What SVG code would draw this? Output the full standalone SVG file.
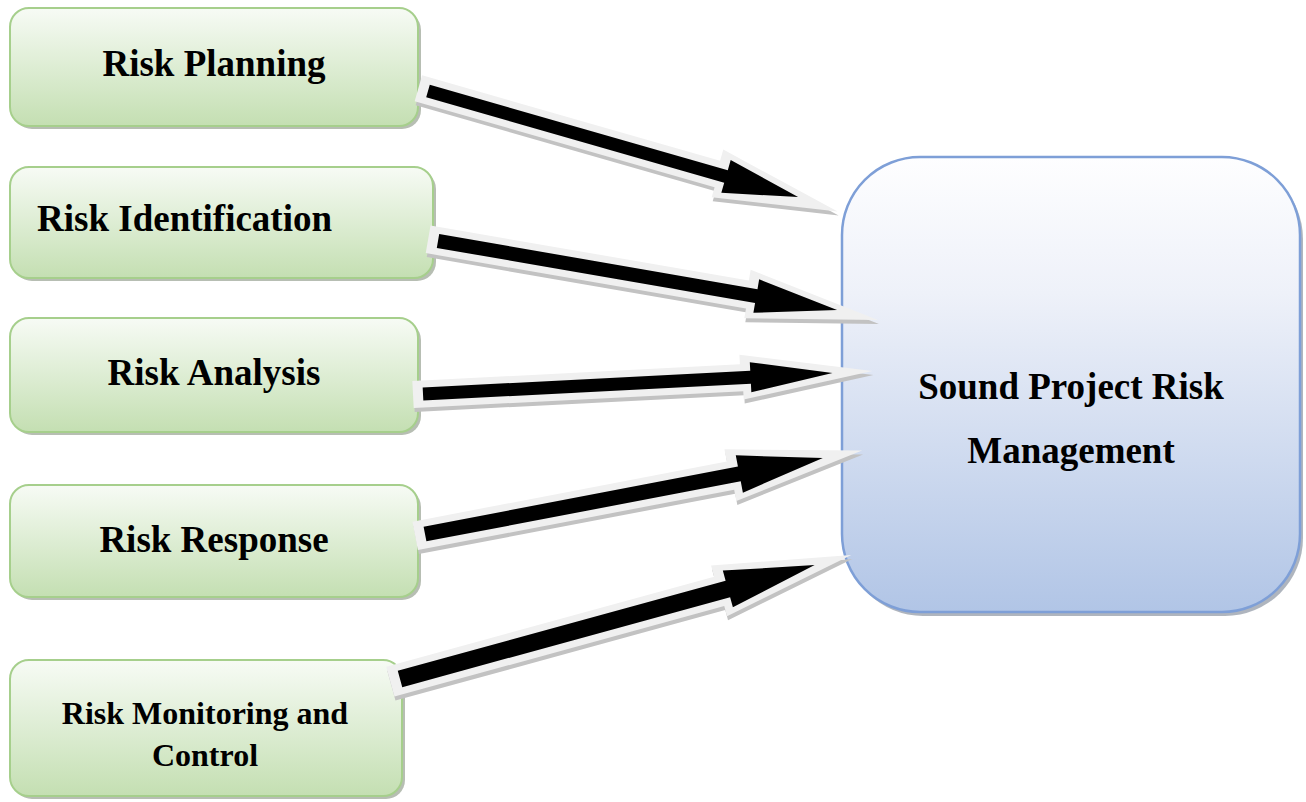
<svg xmlns="http://www.w3.org/2000/svg" width="1306" height="802" viewBox="0 0 1306 802">
  <style>
    .step { fill: url(#greenFill); stroke: #a6cf8c; stroke-width: 2; }
    .step-shadow { fill: #9fa89a; opacity: 0.75; }
    .goal { fill: url(#blueFill); stroke: #7e9fd7; stroke-width: 2.5; }
    .goal-shadow { fill: #8d95a3; opacity: 0.7; }
    .label { font-family: "Liberation Serif", "Times New Roman", serif; font-weight: bold; fill: #000; }
    .arrow-shadow { fill: #c2c2c2; }
    .arrow-rim { fill: #f0f0f0; }
    .arrow-body { fill: #000; }
  </style>
  <defs>
    <linearGradient id="greenFill" x1="0" y1="0" x2="0" y2="1">
      <stop offset="0" stop-color="#f7fbf5"/>
      <stop offset="1" stop-color="#c4dfb2"/>
    </linearGradient>
    <linearGradient id="blueFill" x1="0" y1="0" x2="0" y2="1">
      <stop offset="0" stop-color="#fefeff"/>
      <stop offset="0.3" stop-color="#eef1f9"/>
      <stop offset="1" stop-color="#b1c5e6"/>
    </linearGradient>
  </defs>
  <rect width="1306" height="802" fill="#ffffff"/>

  <!-- process steps -->
  <g id="risk-planning">
    <rect class="step-shadow" x="13" y="11" width="408" height="118" rx="19"/>
    <rect class="step" x="10" y="8" width="408" height="118" rx="19"/>
    <text class="label" x="214" y="76" font-size="37" text-anchor="middle">Risk Planning</text>
  </g>
  <g id="risk-identification">
    <rect class="step-shadow" x="13" y="170" width="423" height="111" rx="19"/>
    <rect class="step" x="10" y="167" width="423" height="111" rx="19"/>
    <text class="label" x="37" y="231" font-size="37">Risk Identification</text>
  </g>
  <g id="risk-analysis">
    <rect class="step-shadow" x="13" y="321" width="408" height="114" rx="19"/>
    <rect class="step" x="10" y="318" width="408" height="114" rx="19"/>
    <text class="label" x="214" y="385" font-size="37" text-anchor="middle">Risk Analysis</text>
  </g>
  <g id="risk-response">
    <rect class="step-shadow" x="13" y="488" width="408" height="112" rx="19"/>
    <rect class="step" x="10" y="485" width="408" height="112" rx="19"/>
    <text class="label" x="214" y="552" font-size="37" text-anchor="middle">Risk Response</text>
  </g>
  <g id="risk-monitoring">
    <rect class="step-shadow" x="13" y="663" width="392" height="136" rx="19"/>
    <rect class="step" x="10" y="660" width="392" height="136" rx="19"/>
    <text class="label" x="205" y="724" font-size="32" text-anchor="middle">Risk Monitoring and</text>
    <text class="label" x="205" y="766" font-size="32" text-anchor="middle">Control</text>
  </g>

  <!-- outcome -->
  <g id="sound-risk-management">
    <rect class="goal-shadow" x="845" y="161" width="458" height="455" rx="78"/>
    <rect class="goal" x="842" y="157" width="458" height="455" rx="78"/>
    <text class="label" x="1071" y="399" font-size="37" text-anchor="middle">Sound Project Risk</text>
    <text class="label" x="1071" y="463" font-size="37" text-anchor="middle">Management</text>
  </g>

  <!-- block arrows: shadow, light rim, black body -->
  <g id="connectors">
    <g id="arrow-planning">
      <polygon class="arrow-shadow" transform="translate(429 95) rotate(15.99)" points="-10,-13.5 300,-13.5 300,-25 427,3 302,24 302,13.5 -10,13.5"/>
      <polygon class="arrow-rim" transform="translate(428 91) rotate(15.99)" points="-10,-13.5 300,-13.5 300,-25 427,3 302,24 302,13.5 -10,13.5"/>
      <polygon class="arrow-body" transform="translate(428 91) rotate(15.99)" points="0,-6.5 310,-6.5 310,-17 385,0 310,17 310,6.5 0,6.5"/>
    </g>
    <g id="arrow-identification">
      <polygon class="arrow-shadow" transform="translate(439 245) rotate(9.81)" points="-10,-14 313,-14 313,-25 447,3 315,24 315,14 -10,14"/>
      <polygon class="arrow-rim" transform="translate(438 241) rotate(9.81)" points="-10,-14 313,-14 313,-25 447,3 315,24 315,14 -10,14"/>
      <polygon class="arrow-body" transform="translate(438 241) rotate(9.81)" points="0,-7 323,-7 323,-17 405,0 323,17 323,7 0,7"/>
    </g>
    <g id="arrow-analysis">
      <polygon class="arrow-shadow" transform="translate(424 398) rotate(-2.93)" points="-10,-13.5 318,-13.5 318,-23 450,0 320,22 320,13.5 -10,13.5"/>
      <polygon class="arrow-rim" transform="translate(423 394) rotate(-2.93)" points="-10,-13.5 318,-13.5 318,-23 450,0 320,22 320,13.5 -10,13.5"/>
      <polygon class="arrow-body" transform="translate(423 394) rotate(-2.93)" points="0,-6.5 328,-6.5 328,-15 410,0 328,15 328,6.5 0,6.5"/>
    </g>
    <g id="arrow-response">
      <polygon class="arrow-shadow" transform="translate(426 538) rotate(-10.81)" points="-10,-14.5 310,-14.5 310,-27 445,0 312,26 312,14.5 -10,14.5"/>
      <polygon class="arrow-rim" transform="translate(425 534) rotate(-10.81)" points="-10,-14.5 310,-14.5 310,-27 445,0 312,26 312,14.5 -10,14.5"/>
      <polygon class="arrow-body" transform="translate(425 534) rotate(-10.81)" points="0,-7.5 320,-7.5 320,-19 405,0 320,19 320,7.5 0,7.5"/>
    </g>
    <g id="arrow-monitoring">
      <polygon class="arrow-shadow" transform="translate(401 683) rotate(-15.36)" points="-10,-15.5 330,-15.5 330,-27 468,0 332,26 332,15.5 -10,15.5"/>
      <polygon class="arrow-rim" transform="translate(400 679) rotate(-15.36)" points="-10,-15.5 330,-15.5 330,-27 468,0 332,26 332,15.5 -10,15.5"/>
      <polygon class="arrow-body" transform="translate(400 679) rotate(-15.36)" points="0,-8.5 340,-8.5 340,-19 430,0 340,19 340,8.5 0,8.5"/>
    </g>
  </g>
</svg>
